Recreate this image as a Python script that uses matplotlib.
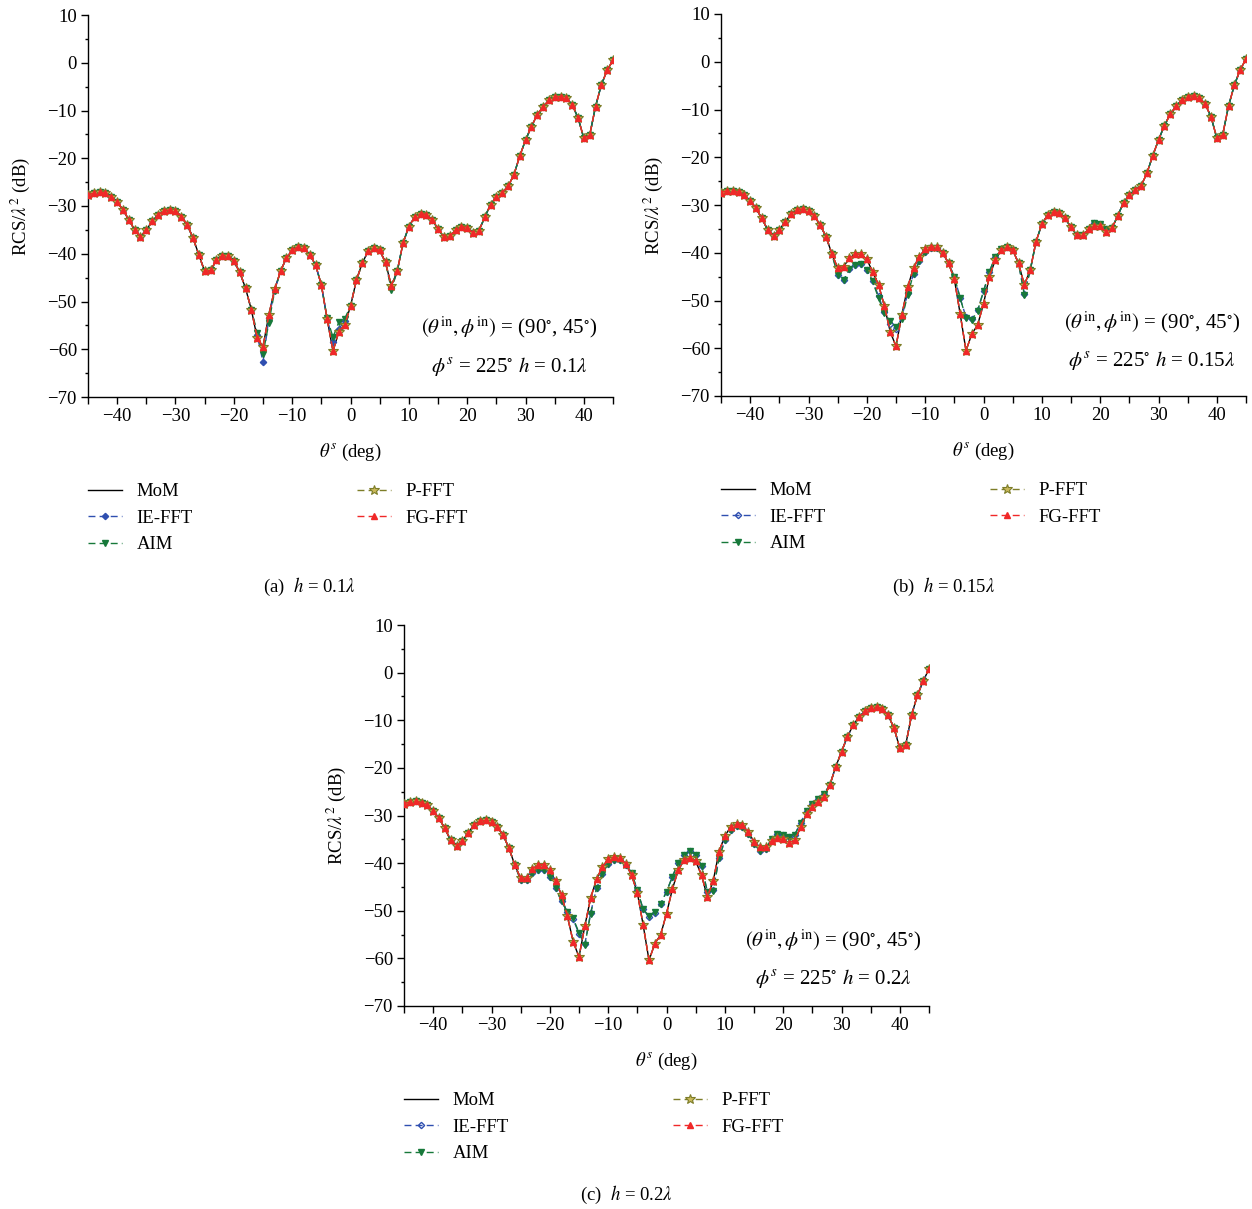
import numpy as np
import matplotlib
matplotlib.use("Agg")
import matplotlib.pyplot as plt
from matplotlib.ticker import MultipleLocator

plt.rcParams['font.family'] = 'serif'
plt.rcParams['font.serif'] = ['Liberation Serif', 'DejaVu Serif']
plt.rcParams['mathtext.fontset'] = 'stix'

theta = list(range(-45, 46))

# ---------------- panel (a) h = 0.1 lambda ----------------
mom_a = [-27.7, -27.3, -27.1, -27.3, -28.1, -29.2, -30.8, -32.9, -35.0, -36.4,
         -35.0, -33.2, -31.8, -31.0, -30.8, -31.0, -32.2, -33.9, -36.7, -40.2,
         -43.7, -43.5, -41.4, -40.4, -40.4, -41.6, -43.8, -47.2, -51.7, -57.6,
         -59.5, -52.8, -47.4, -43.7, -40.9, -39.3, -38.5, -38.8, -40.2, -42.3,
         -46.5, -53.7, -60.4, -56.3, -54.9, -51.0, -45.6, -42.0, -39.5, -38.8,
         -39.3, -41.8, -46.7, -43.7, -37.8, -34.3, -32.3, -31.6, -31.8, -32.9,
         -34.8, -36.5, -36.3, -35.1, -34.3, -34.6, -35.6, -35.2, -32.4, -29.7,
         -28.1, -27.2, -25.9, -23.5, -19.6, -16.2, -13.4, -10.9, -9.2, -7.9,
         -7.2, -7.1, -7.4, -8.8, -11.5, -15.8, -15.2, -9.2, -4.6, -1.6, 0.6]
aim_a = [-27.7, -27.3, -27.1, -27.3, -28.1, -29.2, -30.8, -32.9, -35.0, -36.4,
         -35.0, -33.2, -31.8, -31.0, -30.8, -31.0, -32.2, -33.9, -36.7, -40.2,
         -43.7, -43.5, -41.4, -40.4, -40.4, -41.6, -43.8, -47.2, -51.7, -56.5,
         -61.0, -54.5, -47.8, -43.7, -40.9, -39.3, -38.5, -38.8, -40.2, -42.3,
         -46.5, -53.5, -57.5, -54.3, -53.6, -51.0, -45.6, -42.0, -39.5, -38.8,
         -39.3, -41.8, -47.5, -43.7, -37.8, -34.3, -32.3, -31.6, -31.8, -32.9,
         -34.8, -36.5, -36.3, -35.1, -34.3, -34.6, -35.6, -35.2, -32.4, -29.7,
         -28.1, -27.2, -25.9, -23.5, -19.6, -16.2, -13.4, -10.9, -9.2, -7.9,
         -7.2, -7.1, -7.4, -8.8, -11.5, -15.8, -15.2, -9.2, -4.6, -1.6, 0.6]
ie_a = [-27.7, -27.3, -27.1, -27.3, -28.1, -29.2, -30.8, -32.9, -35.0, -36.4,
        -35.0, -33.2, -31.8, -31.0, -30.8, -31.0, -32.2, -33.9, -36.7, -40.2,
        -43.7, -43.5, -41.4, -40.4, -40.4, -41.6, -43.8, -47.2, -51.7, -57.0,
        -62.7, -53.5, -47.6, -43.7, -40.9, -39.3, -38.5, -38.8, -40.2, -42.3,
        -46.5, -53.6, -58.5, -55.8, -54.0, -51.0, -45.6, -42.0, -39.5, -38.8,
        -39.3, -41.8, -47.2, -43.7, -37.8, -34.3, -32.3, -31.6, -31.8, -32.9,
        -34.8, -36.5, -36.3, -35.1, -34.3, -34.6, -35.6, -35.2, -32.4, -29.7,
        -28.1, -27.2, -25.9, -23.5, -19.6, -16.2, -13.4, -10.9, -9.2, -7.9,
        -7.2, -7.1, -7.4, -8.8, -11.5, -15.8, -15.2, -9.2, -4.6, -1.6, 0.6]

# ---------------- panel (b) h = 0.15 lambda ----------------
mom_b = [-27.4, -27.0, -27.0, -27.3, -28.0, -29.1, -30.7, -32.8, -35.2, -36.5,
         -35.2, -33.5, -31.9, -31.0, -30.8, -31.2, -32.3, -34.2, -36.6, -40.2,
         -43.2, -42.9, -41.2, -40.2, -40.3, -41.4, -44.0, -46.7, -51.1, -56.5,
         -59.6, -53.0, -47.2, -43.2, -40.8, -39.3, -38.7, -38.8, -40.0, -42.2,
         -45.5, -52.8, -60.5, -57.0, -55.1, -50.7, -45.0, -41.6, -39.5, -38.7,
         -39.4, -42.2, -46.7, -43.7, -37.7, -34.0, -32.1, -31.4, -31.6, -32.8,
         -34.7, -36.3, -36.3, -35.1, -34.4, -34.5, -35.6, -34.9, -32.3, -29.5,
         -27.9, -26.8, -26.0, -23.4, -19.7, -16.4, -13.4, -11.0, -9.3, -8.0,
         -7.3, -7.1, -7.5, -8.9, -11.5, -16.0, -15.3, -9.3, -4.9, -1.7, 0.6]
aim_b = [-27.4, -27.0, -27.0, -27.3, -28.0, -29.1, -30.7, -32.8, -35.2, -36.5,
         -35.2, -33.5, -31.9, -31.0, -30.8, -31.2, -32.3, -34.2, -36.6, -40.2,
         -44.6, -45.8, -43.5, -42.5, -42.4, -43.6, -46.0, -49.5, -52.7, -54.2,
         -55.6, -53.9, -48.8, -44.4, -41.8, -39.8, -39.0, -39.0, -40.0, -42.2,
         -45.0, -49.5, -53.7, -54.1, -52.1, -48.1, -44.0, -40.9, -39.3, -38.7,
         -39.4, -42.2, -48.8, -43.7, -37.7, -34.0, -32.1, -31.4, -31.6, -32.8,
         -34.7, -36.3, -36.3, -35.1, -33.8, -34.0, -35.0, -34.9, -32.3, -29.5,
         -27.9, -26.8, -26.0, -23.4, -19.7, -16.4, -13.4, -11.0, -9.3, -8.0,
         -7.3, -7.1, -7.5, -8.9, -11.5, -16.0, -15.3, -9.3, -4.9, -1.7, 0.6]
ie_b = [-27.4, -27.0, -27.0, -27.3, -28.0, -29.1, -30.7, -32.8, -35.2, -36.5,
        -35.2, -33.5, -31.9, -31.0, -30.8, -31.2, -32.3, -34.2, -36.6, -40.2,
        -44.6, -45.8, -43.5, -42.5, -42.4, -43.6, -46.0, -49.0, -52.5, -55.0,
        -56.0, -53.5, -48.5, -44.4, -41.8, -39.8, -39.0, -39.0, -40.0, -42.2,
        -45.0, -49.5, -53.5, -53.8, -52.0, -48.1, -44.0, -40.9, -39.3, -38.7,
        -39.4, -42.2, -48.6, -43.7, -37.7, -34.0, -32.1, -31.4, -31.6, -32.8,
        -34.7, -36.3, -36.3, -35.1, -33.8, -34.0, -35.0, -34.9, -32.3, -29.5,
        -27.9, -26.8, -26.0, -23.4, -19.7, -16.4, -13.4, -11.0, -9.3, -8.0,
        -7.3, -7.1, -7.5, -8.9, -11.5, -16.0, -15.3, -9.3, -4.9, -1.7, 0.6]

# ---------------- panel (c) h = 0.2 lambda ----------------
mom_c = [-27.6, -27.1, -27.0, -27.3, -27.8, -29.1, -30.6, -32.7, -35.2, -36.4,
         -35.4, -33.6, -32.0, -31.2, -31.0, -31.3, -32.4, -34.1, -36.9, -40.4,
         -43.2, -43.1, -41.3, -40.3, -40.3, -41.5, -43.8, -46.7, -51.1, -56.5,
         -59.7, -53.2, -47.3, -43.4, -40.8, -39.2, -38.7, -39.0, -40.1, -42.5,
         -46.2, -53.0, -60.4, -56.9, -55.0, -50.6, -45.5, -41.5, -39.4, -38.9,
         -39.6, -42.5, -47.1, -43.8, -37.6, -34.3, -32.4, -31.7, -32.0, -33.4,
         -35.5, -36.6, -36.6, -35.4, -34.8, -35.0, -35.7, -35.2, -32.4, -29.6,
         -28.2, -27.1, -26.1, -23.6, -19.8, -16.6, -13.5, -11.0, -9.3, -8.1,
         -7.4, -7.2, -7.6, -9.0, -11.6, -15.9, -15.2, -9.0, -4.8, -1.8, 0.8]
aim_c = [-27.6, -27.1, -27.0, -27.3, -27.8, -29.1, -30.6, -32.7, -35.2, -36.4,
         -35.4, -33.6, -32.0, -31.2, -31.0, -31.3, -32.4, -34.1, -36.9, -40.4,
         -43.6, -43.6, -42.0, -41.5, -41.4, -42.9, -45.3, -48.0, -50.2, -51.6,
         -54.6, -57.2, -50.6, -45.3, -42.2, -40.1, -39.4, -39.4, -40.3, -42.0,
         -45.7, -49.7, -51.1, -50.2, -48.5, -46.0, -42.9, -39.9, -38.3, -37.5,
         -38.2, -40.6, -46.0, -45.9, -39.0, -35.2, -33.0, -32.3, -32.5, -33.8,
         -35.9, -37.5, -37.0, -35.0, -33.8, -34.0, -34.5, -34.0, -31.5, -29.1,
         -27.5, -26.6, -25.4, -23.6, -19.8, -16.6, -13.5, -11.0, -9.3, -8.1,
         -7.4, -7.2, -7.6, -9.0, -11.6, -15.9, -15.2, -9.0, -4.8, -1.8, 0.8]
ie_c = [-27.6, -27.1, -27.0, -27.3, -27.8, -29.1, -30.6, -32.7, -35.2, -36.4,
        -35.4, -33.6, -32.0, -31.2, -31.0, -31.3, -32.4, -34.1, -36.9, -40.4,
        -43.6, -43.6, -42.0, -41.5, -41.4, -42.9, -45.3, -48.0, -50.2, -51.8,
        -54.8, -57.0, -50.4, -45.3, -42.2, -40.1, -39.4, -39.4, -40.3, -42.0,
        -45.7, -49.7, -51.3, -50.4, -48.6, -46.0, -42.9, -39.9, -38.3, -37.5,
        -38.2, -40.6, -46.0, -45.7, -39.0, -35.2, -33.0, -32.3, -32.5, -33.8,
        -35.9, -37.5, -37.0, -35.0, -33.8, -34.0, -34.5, -34.0, -31.5, -29.1,
        -27.5, -26.6, -25.4, -23.6, -19.8, -16.6, -13.5, -11.0, -9.3, -8.1,
        -7.4, -7.2, -7.6, -9.0, -11.6, -15.9, -15.2, -9.0, -4.8, -1.8, 0.8]

# P-FFT and FG-FFT coincide with MoM in the reference
pfft_a, fgfft_a = mom_a, mom_a
pfft_b, fgfft_b = mom_b, mom_b
pfft_c, fgfft_c = mom_c, mom_c

h_labels = ['0.1', '0.15', '0.2']
captions = ['(a)', '(b)', '(c)']
series_names = ['MoM', 'IE-FFT', 'AIM', 'P-FFT', 'FG-FFT']

C_BLUE = '#2f4fb0'
C_GREEN = '#17793a'
C_OLIVE = '#7d7d28'
C_RED = '#f02828'

FS = 13.5
W, H = 1252, 1209
fig = plt.figure(figsize=(W / 100, H / 100), dpi=100)

# axes boxes in pixels: left, top, right, bottom
boxes = [(88, 15, 613, 397), (721, 14, 1246, 396), (404, 625, 929, 1006)]
ann_pos = [(0.802, 0.183, 0.081), (0.821, 0.194, 0.094), (0.818, 0.173, 0.073)]
cap_pos = [(310, 587), (944, 587), (627, 1195)]

data = [(mom_a, ie_a, aim_a, pfft_a, fgfft_a),
        (mom_b, ie_b, aim_b, pfft_b, fgfft_b),
        (mom_c, ie_c, aim_c, pfft_c, fgfft_c)]

dash = (0, (5, 3))
for k in range(3):
    l, t, r, b = boxes[k]
    ax = fig.add_axes([l / W, 1 - b / H, (r - l) / W, (b - t) / H])
    mom, ie, aim, pf, fg = data[k]
    ie_face = C_BLUE if k == 0 else 'none'
    h0, = ax.plot(theta, mom, color='black', lw=1.0, zorder=3)
    h1, = ax.plot(theta, ie, color=C_BLUE, lw=1.0, ls=dash, marker='D', ms=3.2,
                  mfc=ie_face, mec=C_BLUE, mew=1.0, zorder=4)
    h2, = ax.plot(theta, aim, color=C_GREEN, lw=1.0, ls=dash, marker='v', ms=5,
                  mfc=C_GREEN, mec=C_GREEN, zorder=5)
    h3, = ax.plot(theta, pf, color=C_OLIVE, lw=1.0, ls=dash, marker='*', ms=7,
                  mfc='#c9b85a', mec=C_OLIVE, mew=0.8, zorder=6)
    h4, = ax.plot(theta, fg, color=C_RED, lw=1.0, ls=dash, marker='^', ms=4.6,
                  mfc=C_RED, mec=C_RED, zorder=7)

    ax.set_xlim(-45, 45)
    ax.set_ylim(-70, 10)
    ax.xaxis.set_minor_locator(MultipleLocator(5))
    ax.yaxis.set_major_locator(MultipleLocator(10))
    ax.yaxis.set_minor_locator(MultipleLocator(5))
    ax.set_xticks([-40, -30, -20, -10, 0, 10, 20, 30, 40])
    for s in ['top', 'right']:
        ax.spines[s].set_visible(False)
    for s in ['left', 'bottom']:
        ax.spines[s].set_linewidth(1.0)
    ax.tick_params(axis='both', which='major', direction='out', length=5,
                   width=1.0, labelsize=FS, pad=3)
    ax.tick_params(axis='x', which='minor', direction='out', length=5, width=1.0)
    ax.tick_params(axis='y', which='minor', direction='out', length=2.5, width=1.0)

    ax.set_ylabel(r'RCS/$\lambda^2$ (dB)', fontsize=FS)
    ax.yaxis.set_label_coords(-0.106, 0.5)
    ax.set_xlabel(r'$\theta^s$ (deg)', fontsize=FS)
    ax.xaxis.set_label_coords(0.5, -0.118)

    ax_x, ay1, ay2 = ann_pos[k]
    ax.text(ax_x, ay1, r'$(\theta^{\mathrm{in}}, \phi^{\mathrm{in}})$ = (90$^{\circ}$, 45$^{\circ}$)',
            transform=ax.transAxes, ha='center', va='center', fontsize=15)
    ax.text(ax_x, ay2, r'$\phi^{s}$ = 225$^{\circ}$ $h$ = ' + h_labels[k] + r'$\lambda$',
            transform=ax.transAxes, ha='center', va='center', fontsize=15)

    ax.legend([h0, h1, h2, h3, h4], series_names, loc='upper left',
              bbox_to_anchor=(0.0, -0.226), ncol=2, frameon=False,
              borderpad=0, borderaxespad=0, handlelength=1.8, handletextpad=0.8,
              columnspacing=8.75, labelspacing=0.5, numpoints=1, fontsize=FS)

    cx, cy = cap_pos[k]
    fig.text(cx / W, 1 - cy / H, captions[k] + r'  $h$ = ' + h_labels[k] + r'$\lambda$',
             ha='center', va='center', fontsize=FS)

fig.savefig('out.png', dpi=100)
